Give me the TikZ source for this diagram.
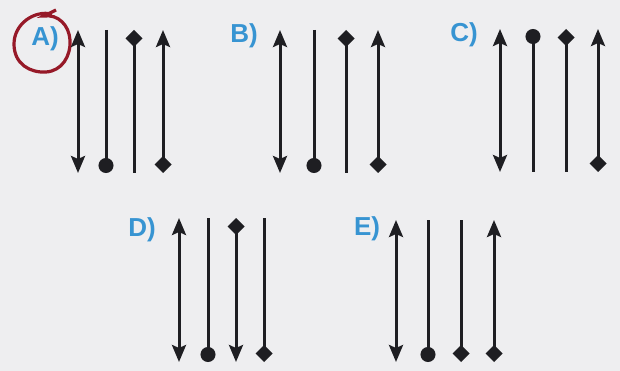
\documentclass[tikz,border=0pt]{standalone}
\usepackage{fontspec}
\setsansfont{Liberation Sans}
\usetikzlibrary{arrows.meta}
\definecolor{labblue}{RGB}{55,148,210}
\definecolor{penred}{RGB}{150,25,40}
\definecolor{paper}{RGB}{238,238,240}
\definecolor{ink}{RGB}{30,30,34}
\tikzset{
  tri/.tip={Stealth[length=17pt,width=14pt,inset=3pt]},
  ball/.tip={Circle[length=15pt]},
  kite/.tip={Turned Square[length=17pt,width=17pt]},
}

\begin{document}
\begin{tikzpicture}[x=1pt, y=-1pt, line width=3pt, draw=ink,
    every node/.style={font=\sffamily\bfseries\fontsize{26}{26}\selectfont, text=labblue}]
    \fill[paper] (0,0) rectangle (620,371);
    \useasboundingbox (0,0) rectangle (620,371);

    % A (circled)
    \node (labA) at (45,39) {A)};
    \draw[penred, line width=3.2pt] (52,14) .. controls (34,10) and (14,24) .. (14,44)
        .. controls (14,64) and (30,73) .. (46,72) .. controls (62,71) and (71,56) .. (70,40)
        .. controls (69,25) and (58,14) .. (44,16) -- (56,10);
    \foreach \i/\x in {1/78, 2/106, 3/134, 4/163} {
        \coordinate (a\i t) at (\x,30);
        \coordinate (a\i b) at (\x,173);
    }
    \draw[tri-tri] (a1t) -- (a1b);
    \draw[-ball] (a2t) -- (a2b);
    \draw[kite-] (a3t) -- (a3b);
    \draw[tri-kite] (a4t) -- (a4b);

    % B
    \node (labB) at (244,36) {B)};
    \foreach \i/\x in {1/280, 2/314, 3/346, 4/378} {
        \coordinate (b\i t) at (\x,30);
        \coordinate (b\i b) at (\x,173);
    }
    \draw[tri-tri] (b1t) -- (b1b);
    \draw[-ball] (b2t) -- (b2b);
    \draw[kite-] (b3t) -- (b3b);
    \draw[tri-kite] (b4t) -- (b4b);

    % C
    \node (labC) at (464,35) {C)};
    \foreach \i/\x in {1/500, 2/533, 3/566, 4/598} {
        \coordinate (c\i t) at (\x,29);
        \coordinate (c\i b) at (\x,172);
    }
    \draw[tri-tri] (c1t) -- (c1b);
    \draw[ball-] (c2t) -- (c2b);
    \draw[kite-] (c3t) -- (c3b);
    \draw[tri-kite] (c4t) -- (c4b);

    % D
    \node (labD) at (142,230) {D)};
    \foreach \i/\x in {1/179, 2/208, 3/236, 4/264} {
        \coordinate (d\i t) at (\x,218);
        \coordinate (d\i b) at (\x,362);
    }
    \draw[tri-tri] (d1t) -- (d1b);
    \draw[-ball] (d2t) -- (d2b);
    \draw[kite-tri] (d3t) -- (d3b);
    \draw[-kite] (d4t) -- (d4b);

    % E
    \node (labE) at (367,229) {E)};
    \foreach \i/\x in {1/396, 2/428, 3/461, 4/494} {
        \coordinate (e\i t) at (\x,220);
        \coordinate (e\i b) at (\x,362);
    }
    \draw[tri-tri] (e1t) -- (e1b);
    \draw[-ball] (e2t) -- (e2b);
    \draw[-kite] (e3t) -- (e3b);
    \draw[tri-kite] (e4t) -- (e4b);
\end{tikzpicture}
\end{document}
